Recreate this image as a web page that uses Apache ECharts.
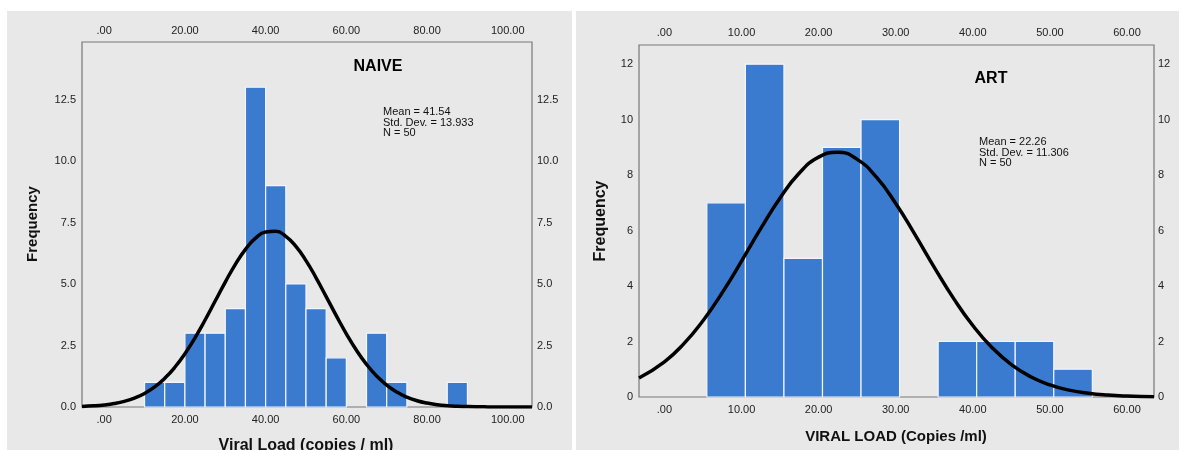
<!DOCTYPE html>
<html>
<head>
<meta charset="utf-8">
<script src="https://cdn.jsdelivr.net/npm/echarts@6/dist/echarts.min.js"></script>
<style>
  html, body { margin: 0; padding: 0; background: #fff; }
  .panel { position: absolute; top: 11px; height: 439px; background: #e8e8e8; }
  #chart { position: absolute; left: 0; top: 0; width: 1179px; height: 450px; }
</style>
</head>
<body>
<div class="panel" style="left:7px;width:565px"></div>
<div class="panel" style="left:576px;width:603px"></div>
<div id="chart"></div>
<script>
// NAIVE histogram (bin width 5)
const naiveBinStart = [10, 15, 20, 25, 30, 35, 40, 45, 50, 55, 65, 70, 85];
const naiveCounts = [1, 1, 3, 3, 4, 13, 9, 5, 4, 2, 3, 1, 1];
// normal curve, every 2.5
const naiveCurveX = [-5.5, -2.5, 0, 2.5, 5, 7.5, 10, 12.5, 15, 17.5, 20, 22.5, 25, 27.5, 30, 32.5, 35, 37.5, 40, 42.5, 45, 47.5, 50, 52.5, 55, 57.5, 60, 62.5, 65, 67.5, 70, 72.5, 75, 77.5, 80, 82.5, 85, 87.5, 90, 95, 100, 106];
const naiveCurveY = [0.024, 0.048, 0.084, 0.141, 0.23, 0.362, 0.552, 0.815, 1.167, 1.616, 2.167, 2.814, 3.538, 4.308, 5.079, 5.8, 6.411, 6.863, 7.115, 7.141, 6.941, 6.532, 5.953, 5.253, 4.489, 3.714, 2.976, 2.308, 1.734, 1.262, 0.888, 0.606, 0.4, 0.256, 0.159, 0.095, 0.055, 0.031, 0.017, 0.005, 0.001, 0];
const naiveXTicks = [0, 20, 40, 60, 80, 100];
const naiveYTicks = [0, 2.5, 5, 7.5, 10, 12.5];
const naiveStats = ['Mean = 41.54', 'Std. Dev. = 13.933', 'N = 50'];

// ART histogram
const artBinStart = [5.5, 10.5, 15.5, 20.5, 25.5, 35.5, 40.5, 45.5, 50.5];
const artCounts = [7, 12, 5, 9, 10, 2, 2, 2, 1];
const artCurveX = [-3.3, 0, 2.5, 5, 7.5, 10, 12.5, 15, 17.5, 20, 22.5, 25, 27.5, 30, 32.5, 35, 37.5, 40, 42.5, 45, 47.5, 50, 52.5, 55, 57.5, 60, 63.5];
const artCurveY = [0.685, 1.27, 1.915, 2.751, 3.763, 4.9, 6.077, 7.178, 8.074, 8.647, 8.82, 8.567, 7.924, 6.979, 5.853, 4.676, 3.556, 2.576, 1.777, 1.167, 0.73, 0.435, 0.247, 0.133, 0.068, 0.034, 0.012];
const artXTicks = [0, 10, 20, 30, 40, 50, 60];
const artYTicks = [0, 2, 4, 6, 8, 10, 12];
const artStats = ['Mean = 22.26', 'Std. Dev. = 11.306', 'N = 50'];

const binWidth = 5;
const BAR = '#3a7bcf';
const FONT = '"Liberation Sans", Arial, sans-serif';

const binData = (starts, counts) =>
  starts.map((s, i) => [s, s + binWidth, counts[i]]);

const renderBin = (params, api) => {
  const top = api.coord([api.value(0), api.value(2)]);
  const bot = api.coord([api.value(1), 0]);
  return {
    type: 'rect',
    shape: { x: top[0], y: top[1], width: bot[0] - top[0], height: bot[1] - top[1] },
    style: { fill: BAR, stroke: '#f2f5fa', lineWidth: 1.2 },
  };
};

const xLabel = (v) => (v === 0 ? '.00' : v.toFixed(2));

const xAxisOf = (grid, pos, min, max, ticks, margin) => ({
  type: 'value', gridIndex: grid, position: pos, min: min, max: max,
  axisLine: { show: false }, axisTick: { show: false }, splitLine: { show: false },
  axisLabel: { customValues: ticks, formatter: xLabel, fontSize: 11, color: '#222', fontFamily: FONT, margin: margin },
});

const yAxisOf = (grid, pos, max, ticks, fmt, margin) => ({
  type: 'value', gridIndex: grid, position: pos, min: 0, max: max,
  axisLine: { show: false }, axisTick: { show: false }, splitLine: { show: false },
  axisLabel: { customValues: ticks, formatter: fmt, fontSize: 11, color: '#222', fontFamily: FONT, margin: margin },
});

const statText = (x, y, lines) => ({
  type: 'text', x: x, y: y,
  style: { text: lines.join('\n'), font: '11px ' + FONT, fill: '#111', lineHeight: 10.5, verticalAlign: 'top' },
});

const curveSeries = (xi, xs, ys) => ({
  type: 'line', xAxisIndex: xi, yAxisIndex: xi, smooth: 0.5, showSymbol: false, z: 5,
  lineStyle: { color: '#000', width: 3.5 },
  data: xs.map((x, i) => [x, ys[i]]),
});

const chart = echarts.init(document.getElementById('chart'));
chart.setOption({
  backgroundColor: 'transparent',
  animation: false,
  grid: [
    { left: 82, top: 42, width: 450, height: 365, show: true, borderColor: '#777', borderWidth: 1.2 },
    { left: 639, top: 45, width: 515, height: 352, show: true, borderColor: '#777', borderWidth: 1.2 },
  ],
  xAxis: [
    xAxisOf(0, 'bottom', -5.5, 106, naiveXTicks, 7),
    xAxisOf(0, 'top', -5.5, 106, naiveXTicks, 6),
    xAxisOf(1, 'bottom', -3.3, 63.5, artXTicks, 7),
    xAxisOf(1, 'top', -3.3, 63.5, artXTicks, 7),
  ],
  yAxis: [
    yAxisOf(0, 'left', 14.84, naiveYTicks, (v) => v.toFixed(1), 6),
    yAxisOf(0, 'right', 14.84, naiveYTicks, (v) => v.toFixed(1), 5),
    yAxisOf(1, 'left', 12.69, artYTicks, (v) => String(v), 6),
    yAxisOf(1, 'right', 12.69, artYTicks, (v) => String(v), 4),
  ],
  series: [
    { type: 'custom', xAxisIndex: 0, yAxisIndex: 0, renderItem: renderBin, data: binData(naiveBinStart, naiveCounts) },
    curveSeries(0, naiveCurveX, naiveCurveY),
    { type: 'custom', xAxisIndex: 2, yAxisIndex: 2, renderItem: renderBin, data: binData(artBinStart, artCounts) },
    curveSeries(2, artCurveX, artCurveY),
  ],
  graphic: [
    { type: 'text', x: 378, y: 67, style: { text: 'NAIVE', font: 'bold 16px ' + FONT, fill: '#000', align: 'center', verticalAlign: 'middle' } },
    { type: 'text', x: 991, y: 79, style: { text: 'ART', font: 'bold 16px ' + FONT, fill: '#000', align: 'center', verticalAlign: 'middle' } },
    statText(383, 107, naiveStats),
    statText(979, 137, artStats),
    { type: 'text', x: 33, y: 224, rotation: Math.PI / 2, style: { text: 'Frequency', font: 'bold 15px ' + FONT, fill: '#111', align: 'center', verticalAlign: 'middle' } },
    { type: 'text', x: 601, y: 221, rotation: Math.PI / 2, style: { text: 'Frequency', font: 'bold 16px ' + FONT, fill: '#111', align: 'center', verticalAlign: 'middle' } },
    { type: 'text', x: 306, y: 446, style: { text: 'Viral Load (copies / ml)', font: 'bold 16px ' + FONT, fill: '#111', align: 'center', verticalAlign: 'middle' } },
    { type: 'text', x: 896, y: 437, style: { text: 'VIRAL LOAD (Copies /ml)', font: 'bold 15px ' + FONT, fill: '#111', align: 'center', verticalAlign: 'middle' } },
  ],
});
</script>
</body>
</html>
